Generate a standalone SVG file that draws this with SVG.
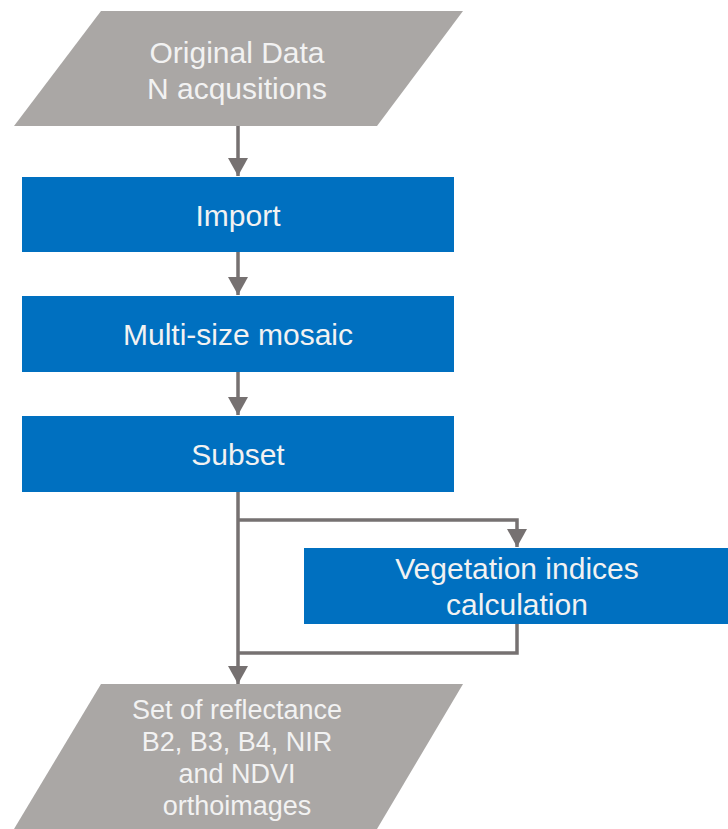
<svg xmlns="http://www.w3.org/2000/svg" width="728" height="829" viewBox="0 0 728 829">
  <style>
    .data { fill: #aaa7a5; }
    .proc { fill: #0070c0; }
    .lbl { font-family: "Liberation Sans", Arial, sans-serif; font-size: 30px; fill: #f2f2f2; text-anchor: middle; }
    .lbl2 { font-family: "Liberation Sans", Arial, sans-serif; font-size: 27px; fill: #f2f2f2; text-anchor: middle; }
    .conn { fill: none; stroke: #767171; stroke-width: 3.5; }
  </style>
  <defs>
    <marker id="arr" markerUnits="userSpaceOnUse" markerWidth="20" markerHeight="20" viewBox="0 0 20 20" refX="18" refY="10" orient="auto">
      <path d="M0,0 L18,10 L0,20 Z" fill="#767171"/>
    </marker>
  </defs>
  <rect width="728" height="829" fill="#ffffff"/>
  <g id="connectors">
    <line class="conn" x1="238" y1="126" x2="238" y2="176" marker-end="url(#arr)"/>
    <line class="conn" x1="238" y1="252" x2="238" y2="295" marker-end="url(#arr)"/>
    <line class="conn" x1="238" y1="372" x2="238" y2="415" marker-end="url(#arr)"/>
    <line class="conn" x1="238" y1="492" x2="238" y2="684" marker-end="url(#arr)"/>
    <polyline class="conn" points="238,520 517,520 517,547" marker-end="url(#arr)"/>
    <polyline class="conn" points="517,624 517,653 238,653"/>
  </g>
  <g id="original-data">
    <polygon class="data" points="101,11 463,11 377,126 14,126"/>
    <text class="lbl" x="237" y="63">Original Data</text>
    <text class="lbl" x="237" y="99">N acqusitions</text>
  </g>
  <g id="import">
    <rect class="proc" x="22" y="177" width="432" height="75"/>
    <text class="lbl" x="238" y="226">Import</text>
  </g>
  <g id="mosaic">
    <rect class="proc" x="22" y="296" width="432" height="76"/>
    <text class="lbl" x="238" y="345">Multi-size mosaic</text>
  </g>
  <g id="subset">
    <rect class="proc" x="22" y="416" width="432" height="76"/>
    <text class="lbl" x="238" y="465">Subset</text>
  </g>
  <g id="vegetation">
    <rect class="proc" x="304" y="548" width="430" height="76"/>
    <text class="lbl" x="517" y="579">Vegetation indices</text>
    <text class="lbl" x="517" y="615">calculation</text>
  </g>
  <g id="output">
    <polygon class="data" points="101,684 463,684 377,829 14,829"/>
    <text class="lbl2" x="237" y="719">Set of reflectance</text>
    <text class="lbl2" x="237" y="751">B2, B3, B4, NIR</text>
    <text class="lbl2" x="237" y="783">and NDVI</text>
    <text class="lbl2" x="237" y="815">orthoimages</text>
  </g>
</svg>
